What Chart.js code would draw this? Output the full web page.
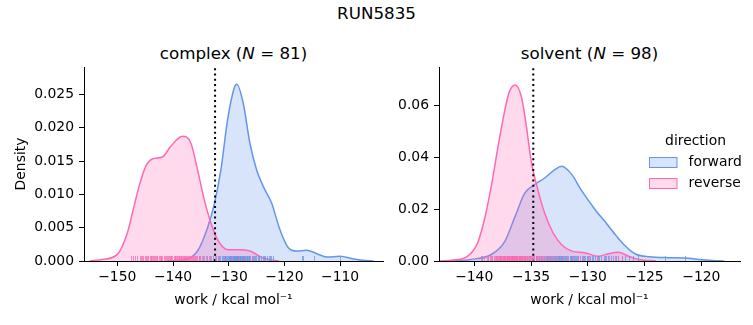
<!DOCTYPE html>
<html lang="en">
  <head>
    <meta charset="UTF-8" />
    <title>RUN5835</title>
    <style>
      body {
        margin: 0;
        background: #fff;
      }
      #figure {
        position: relative;
        width: 753px;
        height: 325px;
        font-family: "DejaVu Sans", sans-serif;
        color: #000;
      }
      #figure canvas {
        position: absolute;
        left: 0;
        top: 0;
      }
      .title {
        position: absolute;
        width: 300px;
        text-align: center;
        font-size: 16.7px;
        line-height: 1;
        white-space: nowrap;
      }
    </style>
  </head>
  <body>
    <div id="figure">
      <div class="title" style="left: 226.5px; top: 5px">RUN5835</div>
      <div class="title" style="left: 83.5px; top: 45px">complex (<i>N</i> = 81)</div>
      <div class="title" style="left: 439.5px; top: 45px">solvent (<i>N</i> = 98)</div>
      <canvas id="complexChart" width="753" height="325"></canvas>
      <canvas id="solventChart" width="753" height="325"></canvas>
    </div>

    <script src="https://cdn.jsdelivr.net/npm/chart.js@4.4.0/dist/chart.umd.min.js"></script>
    <script>
      // ---- complex leg: KDE of work values (kcal/mol) ----
      const complexFwdX = [-141, -138, -135.6, -133.8, -132.6, -131.4, -130.2, -129.0, -128.55, -127.4, -126.2, -125.0, -123.8, -122.3, -120.8, -119.3, -117.8, -116.0, -114.2, -112.4, -110.0, -107.6, -105.9, -104];
      const complexFwdY = [0, 0.0002, 0.0015, 0.005, 0.0085, 0.0137, 0.0212, 0.026, 0.0265, 0.0237, 0.0177, 0.0137, 0.0112, 0.0087, 0.0047, 0.002, 0.0015, 0.0016, 0.0011, 0.0006, 0.0007, 0.0003, 0.0001, 0];
      const complexRevX = [-155, -153, -150, -148.2, -147.0, -146.1, -144.9, -143.7, -141.9, -140.4, -138.3, -136.8, -135.6, -134.4, -133.2, -132.0, -130.2, -128.0, -126.2, -124.4, -123.2, -121];
      const complexRevY = [0, 0.0002, 0.001, 0.0042, 0.0082, 0.0112, 0.0142, 0.0153, 0.0156, 0.0172, 0.0187, 0.0177, 0.0137, 0.0092, 0.0057, 0.0032, 0.0017, 0.0017, 0.0015, 0.0007, 0.0003, 0];

      // individual work samples (rug)
      const complexFwdWork = [
        -135.4, -134.6, -133.9, -133.3, -132.8, -132.3, -131.9, -131.7, -131.5, -131.2,
        -131.0, -130.9, -130.7, -130.6, -130.4, -130.3, -130.2, -130.0, -129.9, -129.8,
        -129.7, -129.6, -129.5, -129.4, -129.3, -129.2, -129.1, -129.0, -128.9, -128.85,
        -128.8, -128.7, -128.65, -128.6, -128.5, -128.45, -128.4, -128.3, -128.25, -128.2,
        -128.1, -128.05, -128.0, -127.9, -127.8, -127.7, -127.6, -127.5, -127.4, -127.3,
        -127.2, -127.1, -126.9, -126.8, -126.7, -126.5, -126.4, -126.3, -126.1, -125.9,
        -125.8, -125.6, -125.4, -125.2, -125.1, -124.8, -124.6, -124.5, -124.2, -123.9,
        -123.6, -123.4, -123.2, -122.8, -122.6, -122.4, -122.1, -116.9, -116.6, -114.6, -110.1,
      ];
      const complexRevWork = [
        -147.6, -147.1, -146.8, -146.4, -146.0, -145.7, -145.5, -145.3, -145.0, -144.8,
        -144.6, -144.5, -144.2, -144.0, -143.9, -143.8, -143.6, -143.5, -143.3, -143.1,
        -142.9, -142.8, -142.6, -142.4, -142.2, -142.1, -141.9, -141.6, -141.5, -141.3,
        -141.0, -140.9, -140.8, -140.6, -140.4, -140.3, -140.1, -139.9, -139.7, -139.6,
        -139.5, -139.3, -139.1, -139.0, -138.9, -138.8, -138.6, -138.5, -138.4, -138.2,
        -138.1, -138.0, -137.8, -137.7, -137.6, -137.4, -137.3, -137.2, -137.0, -136.8,
        -136.6, -136.5, -136.3, -136.0, -135.9, -135.7, -135.4, -135.2, -135.1, -134.8,
        -134.4, -134.0, -133.6, -133.1, -132.5, -131.8, -130.9, -129.4, -128.2, -127.1, -125.8,
      ];
      const complexEstimate = -132.45;

      // ---- solvent leg ----
      const solventFwdX = [-142.5, -140.3, -138.5, -137.3, -136.4, -135.55, -134.7, -133.8, -132.9, -132.3, -131.4, -130.6, -129.3, -128.3, -127.4, -126.7, -125.8, -124.6, -122.9, -121.4, -120.2, -119.05, -118];
      const solventFwdY = [0, 0.0006, 0.0025, 0.0076, 0.0172, 0.0262, 0.0294, 0.032, 0.0352, 0.0365, 0.0333, 0.0275, 0.0195, 0.0142, 0.0092, 0.0058, 0.0027, 0.0016, 0.0013, 0.0012, 0.0006, 0.0002, 0];
      const solventRevX = [-143, -142.0, -140.6, -139.7, -139.1, -138.5, -137.9, -137.3, -136.9, -136.4, -135.85, -135.4, -135.0, -134.4, -133.8, -133.05, -132.3, -131.4, -130.3, -129.05, -128.2, -127.3, -126.4, -125.5, -124];
      const solventRevY = [0, 0.0003, 0.0018, 0.007, 0.016, 0.0288, 0.0442, 0.0583, 0.0653, 0.0679, 0.0634, 0.0518, 0.039, 0.0275, 0.0185, 0.0108, 0.0063, 0.0038, 0.0032, 0.0018, 0.0028, 0.0034, 0.0018, 0.0006, 0];

      const solventFwdWork = [
        -139.3, -138.8, -138.4, -138.0, -137.7, -137.4, -137.1, -136.9, -136.7, -136.5,
        -136.3, -136.1, -135.95, -135.8, -135.65, -135.5, -135.35, -135.2, -135.05, -134.9,
        -134.75, -134.6, -134.45, -134.3, -134.15, -134.0, -133.85, -133.7, -133.6, -133.5,
        -133.4, -133.3, -133.2, -133.1, -133.0, -132.9, -132.8, -132.7, -132.6, -132.5,
        -132.45, -132.4, -132.35, -132.3, -132.25, -132.2, -132.1, -132.0, -131.9, -131.8,
        -131.7, -131.6, -131.5, -131.4, -131.3, -131.2, -131.1, -131.0, -130.85, -130.7,
        -130.55, -130.4, -130.25, -130.1, -129.95, -129.8, -129.65, -129.5, -129.35, -129.2,
        -129.0, -128.8, -128.6, -128.4, -128.2, -128.0, -127.8, -127.55, -127.3, -127.0,
        -126.7, -126.4, -126.0, -125.6, -123.2, -121.4, -133.55, -133.15, -132.85, -132.55,
        -131.95, -131.45, -130.95, -130.3, -129.1, -128.5, -134.55, -135.75,
      ];
      const solventRevWork = [
        -139.4, -139.1, -138.9, -138.75, -138.6, -138.5, -138.4, -138.3, -138.2, -138.1,
        -138.05, -138.0, -137.9, -137.85, -137.8, -137.7, -137.65, -137.6, -137.55, -137.5,
        -137.45, -137.4, -137.35, -137.3, -137.25, -137.2, -137.15, -137.1, -137.05, -137.0,
        -136.95, -136.9, -136.85, -136.8, -136.75, -136.7, -136.65, -136.6, -136.55, -136.5,
        -136.45, -136.4, -136.35, -136.3, -136.25, -136.2, -136.15, -136.1, -136.05, -136.0,
        -135.95, -135.9, -135.85, -135.8, -135.75, -135.7, -135.6, -135.55, -135.5, -135.4,
        -135.35, -135.3, -135.2, -135.1, -135.0, -134.9, -134.8, -134.7, -134.6, -134.5,
        -134.4, -134.3, -134.2, -134.05, -133.9, -133.75, -133.6, -133.45, -133.3, -133.1,
        -132.9, -132.6, -132.3, -131.9, -131.4, -130.9, -130.4, -129.9, -129.2, -128.1,
        -127.6, -127.3, -127.0, -136.52, -137.08, -137.62, -136.78, -135.65,
      ];
      const solventEstimate = -134.8;

      // axis limits and ticks
      const complexXLim = [-155.98, -102.3];
      const complexYMax = 0.0291;
      const complexXTicks = [-150, -140, -130, -120, -110];
      const complexYTicks = [0, 0.005, 0.01, 0.015, 0.02, 0.025];
      const solventXLim = [-143.1, -116.6];
      const solventYMax = 0.0748;
      const solventXTicks = [-140, -135, -130, -125, -120];
      const solventYTicks = [0, 0.02, 0.04, 0.06];

      const BLUE = "rgb(100, 149, 237)";
      const BLUE_FILL = "rgba(100, 149, 237, 0.25)";
      const BLUE_RUG = "rgba(100, 149, 237, 0.75)";
      const PINK = "rgb(255, 105, 180)";
      const PINK_FILL = "rgba(255, 105, 180, 0.25)";
      const PINK_RUG = "rgba(255, 105, 180, 0.75)";
      const FONT = "DejaVu Sans";
      const SIZE = 13.9;

      Chart.defaults.font.family = FONT;
      Chart.defaults.color = "#000";

      function pts(xs, ys) {
        return xs.map((x, i) => ({ x: x, y: ys[i] }));
      }

      function minus(v) {
        return v < 0 ? "\u2212" + Math.abs(v) : String(v);
      }

      // short vertical ticks along the bottom of the axes, one per sample
      function rugPlugin(sets) {
        return {
          id: "rug",
          afterDatasetsDraw(chart) {
            const { ctx, chartArea } = chart;
            const x = chart.scales.x;
            ctx.save();
            ctx.lineWidth = 1;
            sets.forEach((s) => {
              ctx.strokeStyle = s.color;
              s.values.forEach((v) => {
                const px = Math.round(x.getPixelForValue(v)) + 0.5;
                ctx.beginPath();
                ctx.moveTo(px, chartArea.bottom);
                ctx.lineTo(px, chartArea.bottom - 5);
                ctx.stroke();
              });
            });
            ctx.restore();
          },
        };
      }

      // "direction" legend sitting over the right edge of the solvent axes
      const directionLegend = {
        id: "directionLegend",
        afterDraw(chart) {
          const { ctx, chartArea } = chart;
          const left = chartArea.right - 90.5;
          const sets = chart.data.datasets.filter((d) => d.inLegend);
          ctx.save();
          ctx.font = SIZE + "px '" + FONT + "'";
          ctx.textBaseline = "middle";
          ctx.textAlign = "center";
          ctx.fillStyle = "#000";
          ctx.fillText("direction", left + 46, 141);
          ctx.textAlign = "left";
          sets.forEach((d, i) => {
            const y = 157.5 + i * 21;
            ctx.fillStyle = d.backgroundColor;
            ctx.fillRect(left, y, 27.5, 10);
            ctx.strokeStyle = d.borderColor;
            ctx.lineWidth = 1;
            ctx.strokeRect(left, y, 27.5, 10);
            ctx.fillStyle = "#000";
            ctx.fillText(d.label, left + 39, y + 5);
          });
          ctx.restore();
        },
      };

      function kdeSet(label, data, line, fill, order) {
        return {
          label: label,
          data: data,
          borderColor: line,
          backgroundColor: fill,
          borderWidth: 1.5,
          fill: "origin",
          pointRadius: 0,
          cubicInterpolationMode: "monotone",
          order: order,
          inLegend: true,
        };
      }

      function makeChart(id, cfg) {
        return new Chart(document.getElementById(id), {
          type: "line",
          data: {
            datasets: [
              kdeSet("forward", pts(cfg.fwdX, cfg.fwdY), BLUE, BLUE_FILL, 2),
              kdeSet("reverse", pts(cfg.revX, cfg.revY), PINK, PINK_FILL, 1),
              {
                label: "estimate",
                data: [
                  { x: cfg.estimate, y: 0 },
                  { x: cfg.estimate, y: cfg.yMax },
                ],
                borderColor: "#000",
                borderWidth: 2,
                borderDash: [2, 3.3],
                pointRadius: 0,
                fill: false,
                order: 0,
              },
            ],
          },
          options: {
            responsive: false,
            animation: false,
            events: [],
            layout: { padding: cfg.padding },
            plugins: {
              legend: { display: false },
              tooltip: { enabled: false },
            },
            scales: {
              x: {
                type: "linear",
                min: cfg.xLim[0],
                max: cfg.xLim[1],
                afterBuildTicks: (scale) => {
                  scale.ticks = cfg.xTicks.map((v) => ({ value: v }));
                },
                afterFit: (scale) => {
                  scale.height = 64;
                },
                ticks: {
                  font: { size: SIZE },
                  padding: 3,
                  maxRotation: 0,
                  callback: (v) => minus(v),
                },
                grid: {
                  drawOnChartArea: false,
                  tickLength: 5,
                  color: "#000",
                },
                border: { display: true, color: "#000", width: 1 },
                title: {
                  display: true,
                  text: "work / kcal mol\u207B\u00B9",
                  font: { size: SIZE },
                  padding: { top: 16, bottom: 16 },
                },
              },
              y: {
                min: 0,
                max: cfg.yMax,
                afterBuildTicks: (scale) => {
                  scale.ticks = cfg.yTicks.map((v) => ({ value: v }));
                },
                afterFit: (scale) => {
                  scale.width = cfg.yWidth;
                },
                ticks: {
                  font: { size: SIZE },
                  padding: 5,
                  callback: (v) => v.toFixed(cfg.yDecimals),
                },
                grid: {
                  drawOnChartArea: false,
                  tickLength: 5,
                  color: "#000",
                },
                border: { display: true, color: "#000", width: 1 },
                title: {
                  display: !!cfg.yTitle,
                  text: cfg.yTitle || "",
                  font: { size: SIZE },
                  padding: { top: 13, bottom: 13 },
                },
              },
            },
          },
          plugins: cfg.plugins,
        });
      }

      makeChart("complexChart", {
        fwdX: complexFwdX,
        fwdY: complexFwdY,
        revX: complexRevX,
        revY: complexRevY,
        estimate: complexEstimate,
        xLim: complexXLim,
        yMax: complexYMax,
        xTicks: complexXTicks,
        yTicks: complexYTicks,
        yDecimals: 3,
        yTitle: "Density",
        yWidth: 84,
        padding: { left: 0, right: 370, top: 67, bottom: 0 },
        plugins: [
          rugPlugin([
            { color: BLUE_RUG, values: complexFwdWork },
            { color: PINK_RUG, values: complexRevWork },
          ]),
        ],
      });

      makeChart("solventChart", {
        fwdX: solventFwdX,
        fwdY: solventFwdY,
        revX: solventRevX,
        revY: solventRevY,
        estimate: solventEstimate,
        xLim: solventXLim,
        yMax: solventYMax,
        xTicks: solventXTicks,
        yTicks: solventYTicks,
        yDecimals: 2,
        yTitle: null,
        yWidth: 50,
        padding: { left: 389, right: 13, top: 67, bottom: 0 },
        plugins: [
          rugPlugin([
            { color: BLUE_RUG, values: solventFwdWork },
            { color: PINK_RUG, values: solventRevWork },
          ]),
          directionLegend,
        ],
      });
    </script>
  </body>
</html>
